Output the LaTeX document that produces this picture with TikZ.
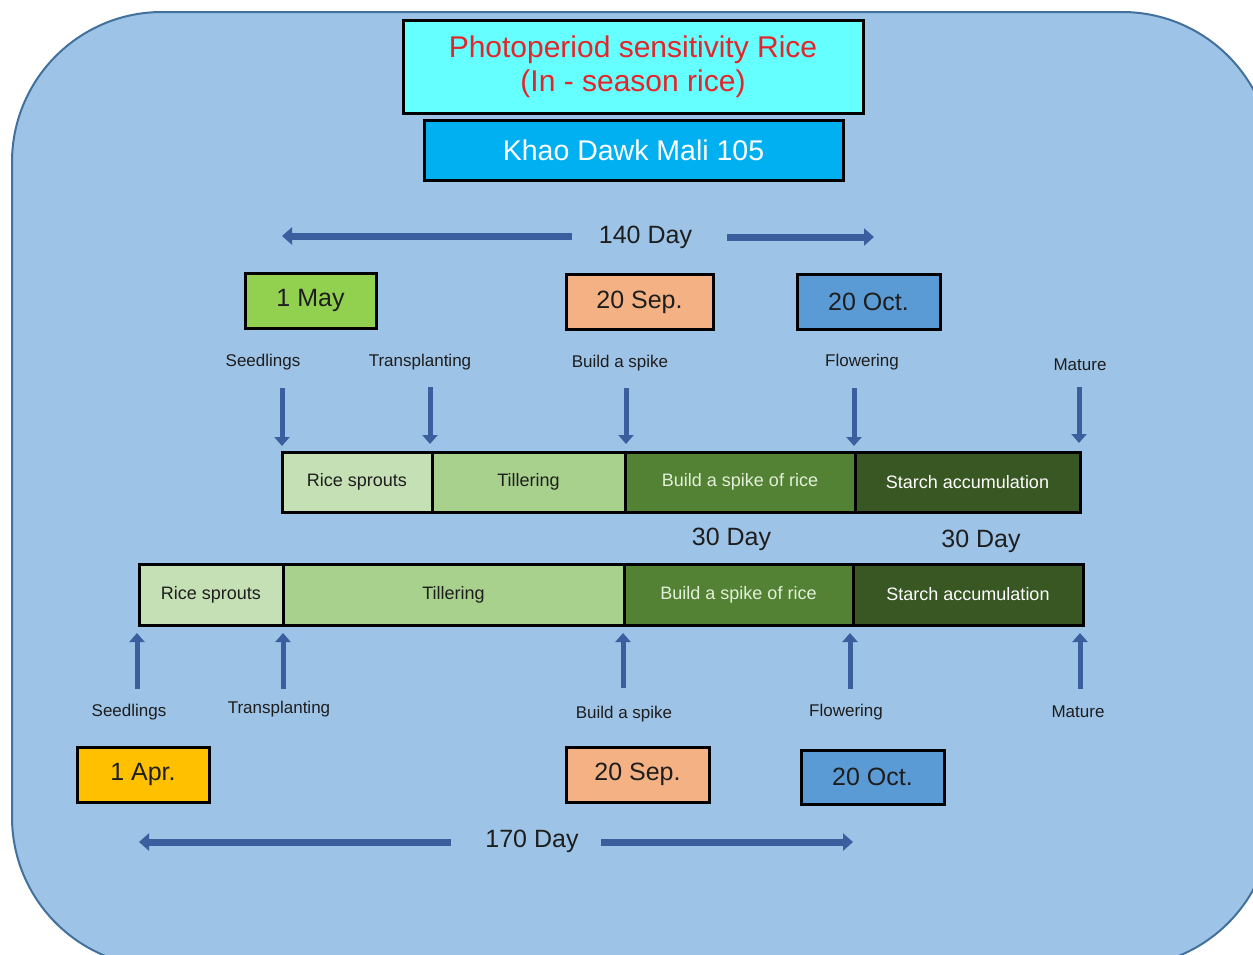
\documentclass[tikz,border=0pt]{standalone}
\usepackage{fontspec}
\setmainfont{Liberation Sans}
\usetikzlibrary{arrows.meta}
\definecolor{bgblue}{HTML}{9DC3E6}
\definecolor{bgline}{HTML}{41719C}
\definecolor{arrowblue}{HTML}{3A5E9E}
\definecolor{txt}{HTML}{1E1E1E}
\definecolor{titlered}{HTML}{E3262B}
\definecolor{cyanbox}{HTML}{66FFFF}
\definecolor{skybox}{HTML}{00B0F0}
\definecolor{maygreen}{HTML}{92D050}
\definecolor{peach}{HTML}{F4B183}
\definecolor{octblue}{HTML}{5B9BD5}
\definecolor{aprgold}{HTML}{FFC000}
\definecolor{sprout}{HTML}{C5E0B4}
\definecolor{tiller}{HTML}{A9D18E}
\definecolor{spike}{HTML}{548235}
\definecolor{starch}{HTML}{385723}
\definecolor{lighttxt}{HTML}{E2F0D9}
\tikzset{
  datebox/.style={draw=black, line width=3pt, inner sep=0pt, minimum height=55pt,
    text=txt, font=\fontsize{25}{30}\selectfont},
  barseg/.style={draw=black, line width=3pt, inner sep=0pt, outer sep=0pt, anchor=west,
    text=txt, font=\fontsize{18}{22}\selectfont},
  stagelbl/.style={text=txt, inner sep=0pt, font=\fontsize{17}{20}\selectfont},
  daytxt/.style={text=txt, inner sep=0pt, font=\fontsize{25}{30}\selectfont},
  tickarrow/.style={draw=arrowblue, line width=5pt, -{Triangle[width=15pt,length=9pt]}},
  spanarrow/.style={draw=arrowblue, line width=7pt, -{Triangle[width=17pt,length=10pt]}}
}
\begin{document}
\begin{tikzpicture}[x=1pt,y=-1pt]
\useasboundingbox (0,0) rectangle (1253,954);
\clip (0,0) rectangle (1253,954);
% rounded background panel
\filldraw[fill=bgblue, draw=bgline, line width=2pt, rounded corners=150pt]
  (12,12) rectangle (1272,967);

% headings
\node[draw=black, line width=3pt, fill=cyanbox, minimum width=460pt, minimum height=93pt,
  inner sep=0pt, align=center, text=titlered, font=\fontsize{30}{34}\selectfont]
  (title) at (633,66.5) {Photoperiod sensitivity Rice\\(In - season rice)};
\node[draw=black, line width=3pt, fill=skybox, minimum width=419pt, minimum height=60pt,
  inner sep=0pt, text=white, font=\fontsize{28.5}{32}\selectfont]
  (variety) at (633.5,150) {Khao Dawk Mali 105};

% 140-day span
\node[daytxt] (d140) at (645.5,237.5) {140 Day};
\coordinate (d140l) at (282,236);
\coordinate (d140r) at (874,237);
\draw[spanarrow, shorten <=27pt] (d140.west |- d140l) -- (d140l);
\draw[spanarrow, shorten <=35pt] (d140.east |- d140r) -- (d140r);

% dates of the in-season crop
\node[datebox, fill=maygreen, minimum width=131pt] (may) at (310.5,300.5) {1 May};
\node[datebox, fill=peach, minimum width=147pt] (sepA) at (639.5,302) {20 Sep.};
\node[datebox, fill=octblue, minimum width=143pt] (octA) at (868.5,301.5) {20 Oct.};

% upper stage bar
\node[barseg, fill=sprout, minimum width=150pt, minimum height=60pt] (ua) at (282,482) {Rice sprouts};
\node[barseg, fill=tiller, minimum width=193pt, minimum height=60pt] (ub) at (432,482) {Tillering};
\node[barseg, fill=spike, text=lighttxt, minimum width=230pt, minimum height=60pt] (uc) at (625,482) {Build a spike of rice};
\node[barseg, fill=starch, text=white, minimum width=225pt, minimum height=60pt] (ud) at (855,482) {Starch accumulation};

% upper stage labels and ticks
\node[stagelbl] (us1) at (263,362) {Seedlings};
\node[stagelbl] (us2) at (420,362) {Transplanting};
\node[stagelbl] (us3) at (620,363) {Build a spike};
\node[stagelbl] (us4) at (862,362) {Flowering};
\node[stagelbl] (us5) at (1080,365) {Mature};
\coordinate (ut1) at (282,388);
\coordinate (ut2) at (430,387);
\coordinate (ut3) at (626,388);
\coordinate (ut4) at (854,388);
\coordinate (ut5) at (1079,387);
\draw[tickarrow, shorten >=6pt] (ut1) -- (ut1 |- ua.north);
\draw[tickarrow, shorten >=8pt] (ut2) -- (ut2 |- ub.north);
\draw[tickarrow, shorten >=8pt] (ut3) -- (ut3 |- uc.north);
\draw[tickarrow, shorten >=6pt] (ut4) -- (ut4 |- ud.north);
\draw[tickarrow, shorten >=9pt] (ut5) -- (ut5 |- ud.north);

% durations
\node[daytxt] (m1) at (731.5,539) {30 Day};
\node[daytxt] (m2) at (981,541) {30 Day};

% lower stage bar
\node[barseg, fill=sprout, minimum width=144pt, minimum height=61pt] (la) at (139,594.5) {Rice sprouts};
\node[barseg, fill=tiller, minimum width=341pt, minimum height=61pt] (lb) at (283,594.5) {Tillering};
\node[barseg, fill=spike, text=lighttxt, minimum width=229pt, minimum height=61pt] (lc) at (624,594.5) {Build a spike of rice};
\node[barseg, fill=starch, text=white, minimum width=230pt, minimum height=61pt] (ld) at (853,594.5) {Starch accumulation};

% lower stage labels and ticks
\node[stagelbl] (ls1) at (129,712) {Seedlings};
\node[stagelbl] (ls2) at (279,709) {Transplanting};
\node[stagelbl] (ls3) at (624,714) {Build a spike};
\node[stagelbl] (ls4) at (846,712) {Flowering};
\node[stagelbl] (ls5) at (1078,712) {Mature};
\coordinate (lt1) at (137,689);
\coordinate (lt2) at (283,689);
\coordinate (lt3) at (623,688);
\coordinate (lt4) at (850,689);
\coordinate (lt5) at (1080,689);
\draw[tickarrow, shorten >=8pt] (lt1) -- (lt1 |- la.south);
\draw[tickarrow, shorten >=8pt] (lt2) -- (lt2 |- lb.south);
\draw[tickarrow, shorten >=8pt] (lt3) -- (lt3 |- lc.south);
\draw[tickarrow, shorten >=8pt] (lt4) -- (lt4 |- ld.south);
\draw[tickarrow, shorten >=8pt] (lt5) -- (lt5 |- ld.south);

% dates of the early crop
\node[datebox, fill=aprgold, minimum width=132pt] (apr) at (143,774.5) {1 Apr.};
\node[datebox, fill=peach, minimum width=143pt] (sepB) at (637.5,774.5) {20 Sep.};
\node[datebox, fill=octblue, minimum width=143pt, minimum height=54pt] (octB) at (872.5,777) {20 Oct.};

% 170-day span
\node[daytxt] (d170) at (532,841.5) {170 Day};
\coordinate (d170l) at (139,842);
\coordinate (d170r) at (853,842);
\draw[spanarrow, shorten <=34pt] (d170.west |- d170l) -- (d170l);
\draw[spanarrow, shorten <=22pt] (d170.east |- d170r) -- (d170r);
\end{tikzpicture}
\end{document}
